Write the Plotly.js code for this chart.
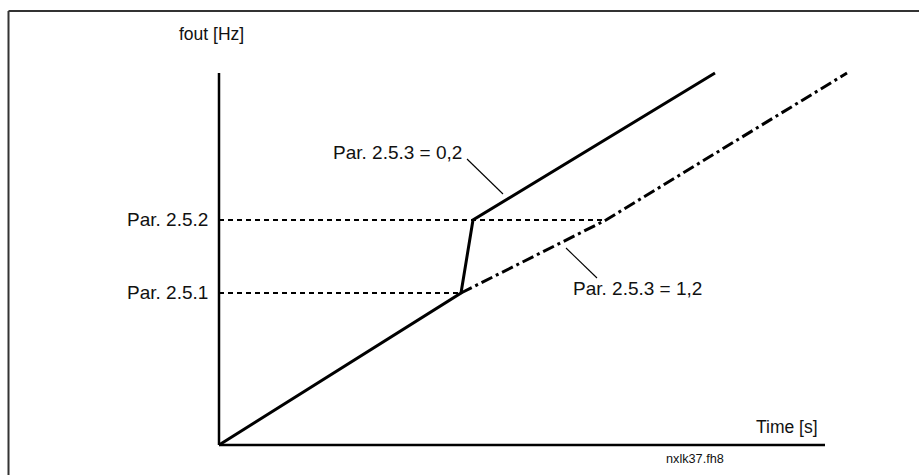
<!DOCTYPE html>
<html>
<head>
<meta charset="utf-8">
<script src="https://cdn.plot.ly/plotly-3.0.1.min.js"></script>
<style>
  html, body { margin: 0; padding: 0; background: #ffffff; }
  #chart { width: 919px; height: 475px; }
</style>
</head>
<body>
<div id="chart"></div>
<script>
// ---- data (arbitrary units) ----
const timeSolid = [0, 24.2, 25.4, 49.6];        // Par. 2.5.3 = 0,2
const freqSolid = [0, 15.2, 22.5, 37.2];
const timeDashDot = [24.2, 38.7, 62.8];         // Par. 2.5.3 = 1,2
const freqDashDot = [15.2, 22.5, 37.2];
const levelNames = ['Par. 2.5.1', 'Par. 2.5.2'];
const levelValues = [15.2, 22.5];
const levelEnds = [24.2, 38.7];
const axisEnds = { time: 60.6, freq: 37.2 };
const curveLabels = ['Par. 2.5.3 = 0,2', 'Par. 2.5.3 = 1,2'];
const axisTitles = { x: 'Time [s]', y: 'fout [Hz]' };
const fileTag = 'nxlk37.fh8';

const FONT = 'Liberation Sans, Arial, sans-serif';
const traces = [];

// reference levels (dashed)
levelValues.forEach((v, i) => {
  traces.push({
    x: [0, levelEnds[i]], y: [v, v], mode: 'lines',
    line: { color: '#000', width: 1.8, dash: '5px,4px' }
  });
});

// axes
traces.push({ x: [0, 0], y: [0, axisEnds.freq], mode: 'lines', line: { color: '#000', width: 2.5 } });
traces.push({ x: [0, axisEnds.time], y: [0, 0], mode: 'lines', line: { color: '#000', width: 2.5 } });

// curves
traces.push({ x: timeSolid, y: freqSolid, mode: 'lines', line: { color: '#000', width: 3 } });
traces.push({ x: timeDashDot, y: freqDashDot, mode: 'lines', line: { color: '#000', width: 3, dash: '12px,4px,3px,4px' } });

// leader lines
traces.push({ x: [24.8, 28.4], y: [28.6, 25.1], mode: 'lines', line: { color: '#000', width: 1.1 } });
traces.push({ x: [34.7, 37.8], y: [19.7, 16.7], mode: 'lines', line: { color: '#000', width: 1.1 } });

const annotations = [];
levelValues.forEach((v, i) => {
  annotations.push({ x: -0.9, y: v + 0.1, xref: 'x', yref: 'y', text: levelNames[i], showarrow: false,
    xanchor: 'right', yanchor: 'middle', font: { family: FONT, size: 19, color: '#111' } });
});
annotations.push({ x: 11.2, y: 29.3, xref: 'x', yref: 'y', text: curveLabels[0], showarrow: false,
  xanchor: 'left', yanchor: 'middle', font: { family: FONT, size: 19, color: '#111' } });
annotations.push({ x: 35.2, y: 15.7, xref: 'x', yref: 'y', text: curveLabels[1], showarrow: false,
  xanchor: 'left', yanchor: 'middle', font: { family: FONT, size: 19, color: '#111' } });
annotations.push({ x: 60.1, y: 1.8, xref: 'x', yref: 'y', text: axisTitles.x, showarrow: false,
  xanchor: 'right', yanchor: 'middle', font: { family: FONT, size: 17.5, color: '#111' } });
annotations.push({ x: -4.2, y: 41.1, xref: 'x', yref: 'y', text: axisTitles.y, showarrow: false,
  xanchor: 'left', yanchor: 'middle', font: { family: FONT, size: 17.5, color: '#111' } });
annotations.push({ x: 44.5, y: -1.4, xref: 'x', yref: 'y', text: fileTag, showarrow: false,
  xanchor: 'left', yanchor: 'middle', font: { family: FONT, size: 12.7, color: '#111' } });

const layout = {
  width: 919, height: 475,
  margin: { l: 0, r: 0, t: 0, b: 0, pad: 0 },
  paper_bgcolor: '#fff', plot_bgcolor: '#fff',
  showlegend: false,
  xaxis: { range: [-21.9, 70.0], visible: false, fixedrange: true },
  yaxis: { range: [-3.0, 44.5], visible: false, fixedrange: true },
  shapes: [
    { type: 'line', xref: 'paper', yref: 'paper', x0: 8.5 / 919, x1: 8.5 / 919, y0: 0, y1: 1 - 11 / 475,
      line: { color: '#333', width: 2 } },
    { type: 'line', xref: 'paper', yref: 'paper', x0: 8.5 / 919, x1: 1, y0: 1 - 11 / 475, y1: 1 - 11 / 475,
      line: { color: '#333', width: 2 } }
  ],
  annotations: annotations,
  hovermode: false
};

Plotly.newPlot('chart', traces, layout, { staticPlot: true, displayModeBar: false });
</script>
</body>
</html>
